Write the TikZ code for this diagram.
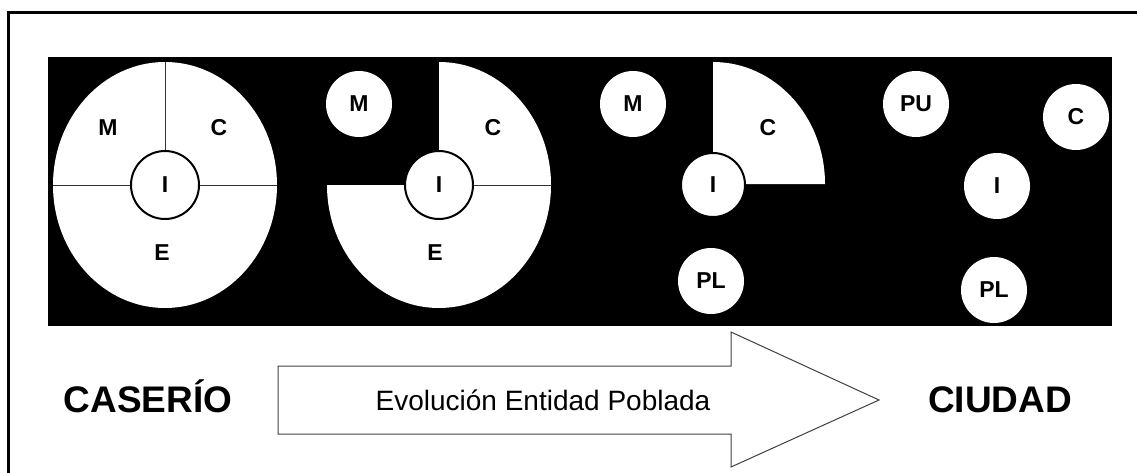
\documentclass[tikz,border=0pt]{standalone}
\usepackage{fontspec}
\setmainfont{Liberation Sans}
\tikzset{
  lab/.style={font=\bfseries\fontsize{23}{23}\selectfont, inner sep=0pt},
  spot/.style={lab, circle, fill=white, minimum size=66pt},
  core/.style={spot, draw=black, line width=2pt, minimum size=68pt},
  split/.style={draw=black!80, line width=1pt},
  title/.style={font=\bfseries\fontsize{37}{37}\selectfont, anchor=base, inner sep=0pt}
}
\begin{document}
\begin{tikzpicture}[x=1pt, y=1pt]
\path[use as bounding box, clip] (0,0) rectangle (1137,472);
% Set the sector radii
\def\rx{112}
\def\ry{123}

% Outer frame and black band
\draw[line width=3pt] (8.5,-20) -- (8.5,459.5) -- (1160,459.5);
\fill[black] (48,146) rectangle (1112,415);

% First stage: full ellipse with four parts
\fill[white] (165,287) ellipse [x radius=\rx, y radius=\ry];
\draw[split] (165,410) -- (165,287);
\draw[split] (53,287) -- (277,287);
\node[core] (ione) at (165,287) {I};
\node[lab] (mone) at (108,344) {M};
\node[lab] (cone) at (219,344) {C};
\node[lab] (eone) at (162,219) {E};

% Second stage: M leaves the ellipse
\fill[white] (439,287) -- (439,410) arc[start angle=90, end angle=-180, x radius=\rx, y radius=\ry] -- cycle;
\draw[split] (439,287) -- (551,287);
\node[core] (itwo) at (439,287) {I};
\node[lab] (ctwo) at (493,344) {C};
\node[lab] (etwo) at (435,219) {E};
\node[spot] (mtwo) at (359,368) {M};

% Third stage: only C stays as a sector
\fill[white] (713,288) -- (713,410) arc[start angle=90, end angle=0, x radius=\rx, y radius=122] -- cycle;
\node[lab] (cthree) at (768,344) {C};
\node[core, minimum size=64pt] (ithree) at (713,287) {I};
\node[spot] (mthree) at (633,368) {M};
\node[spot] (plthree) at (711,191) {PL};

% Fourth stage: all parts apart
\node[spot] (pufour) at (916,368) {PU};
\node[spot] (cfour) at (1076,355) {C};
\node[spot] (ifour) at (997,286) {I};
\node[spot] (plfour) at (994,182) {PL};

% Evolution arrow and end labels
\draw[draw=black!75, line width=1pt, fill=white] (278,106) -- (731,106) -- (731,140) -- (879,72) -- (731,5) -- (731,38) -- (278,38) -- cycle;
\node[anchor=base, inner sep=0pt, font=\fontsize{28}{28}\selectfont] (evol) at (543,62) {Evolución Entidad Poblada};
\node[title] (caserio) at (148,60) {CASERÍO};
\node[title] (ciudad) at (1000,60) {CIUDAD};
\end{tikzpicture}
\end{document}
